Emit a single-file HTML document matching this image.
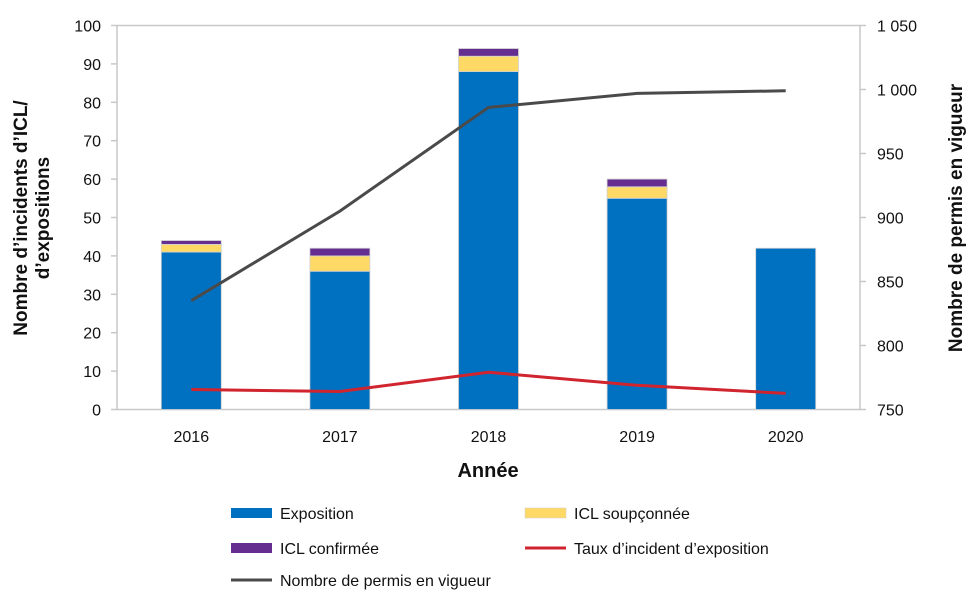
<!DOCTYPE html>
<html><head><meta charset="utf-8"><style>
body{margin:0;background:#fff;}
svg{display:block;font-family:"Liberation Sans",sans-serif;}
</style></head><body>
<svg id="chart" width="980" height="611">
<g id="axes"></g><g id="bars"></g><g id="lines"></g>
<text x="0" y="0" transform="translate(31,218) rotate(-90)" text-anchor="middle" font-size="19" font-weight="bold" fill="#111"><tspan x="0" dy="-4">Nombre d’incidents d’ICL/</tspan><tspan x="0" dy="22">d’expositions</tspan></text>
<text transform="translate(956,218) rotate(-90)" text-anchor="middle" font-size="19" font-weight="bold" fill="#111" dy="6">Nombre de permis en vigueur</text>
<text x="488" y="477" text-anchor="middle" font-size="20" font-weight="bold" fill="#111">Année</text>
<g font-size="16" fill="#111">
<g><rect x="231" y="508" width="41" height="10" fill="#0070c0"/><text x="280" y="519">Exposition</text></g>
<g><rect x="525" y="508" width="41" height="10" fill="#ffd966" stroke="#ccc" stroke-width="0.5"/><text x="574" y="519">ICL soupçonnée</text></g>
<g><rect x="231" y="543" width="41" height="10" fill="#652d90"/><text x="280" y="554">ICL confirmée</text></g>
<g><line x1="525" y1="548" x2="566" y2="548" stroke="#d0252f" stroke-width="3"/><text x="574" y="554">Taux d’incident d’exposition</text></g>
<g><line x1="231" y1="580" x2="272" y2="580" stroke="#4a4a4a" stroke-width="3"/><text x="280" y="586">Nombre de permis en vigueur</text></g>
</g>
</svg>
<script>
const categories=["2016","2017","2018","2019","2020"];
const exposition=[41,36,88,55,42];
const iclSoupconnee=[2,4,4,3,0];
const iclConfirmee=[1,2,2,2,0];
const tauxIncident=[5.2,4.7,9.7,6.3,4.2];
const permis=[835,905,986,997,999];
const leftTicks=[0,10,20,30,40,50,60,70,80,90,100];
const rightTicks=[750,800,850,900,950,1000,1050];
const rightTickLabels=["750","800","850","900","950","1 000","1 050"];
const NS="http://www.w3.org/2000/svg";
const X0=117,X1=860,Y0=409.5,Y1=25.5;
const yL=v=>Y0-(v/100)*(Y0-Y1);
const yR=v=>Y0-((v-750)/300)*(Y0-Y1);
const band=(X1-X0)/categories.length;
const xC=i=>X0+band*(i+0.5);
function mk(p,tag,a){const e=document.createElementNS(NS,tag);for(const k in a)e.setAttribute(k,a[k]);p.appendChild(e);return e;}
const axes=document.getElementById('axes'),bars=document.getElementById('bars'),lines=document.getElementById('lines');
let e=mk(axes,'rect',{x:X0,y:Y1,width:X1-X0,height:Y0-Y1,fill:'none',stroke:'#c8c8c8','stroke-width':1.5});


leftTicks.forEach(t=>{
 mk(axes,'line',{x1:X0-6,x2:X0,y1:yL(t),y2:yL(t),stroke:'#c8c8c8','stroke-width':1.5});
 const tx=mk(axes,'text',{x:X0-16,y:yL(t)+6,'text-anchor':'end','font-size':16,fill:'#111'});tx.textContent=t;
 
 
});
rightTicks.forEach((t,i)=>{
 mk(axes,'line',{x1:X1,x2:X1+6,y1:yR(t),y2:yR(t),stroke:'#c8c8c8','stroke-width':1.5});
 const tx=mk(axes,'text',{x:X1+17,y:yR(t)+6,'font-size':16,fill:'#111'});tx.textContent=rightTickLabels[i];
 
 
});
categories.forEach((c,i)=>{
 const tx=mk(axes,'text',{x:xC(i),y:442,'text-anchor':'middle','font-size':16,fill:'#111'});tx.textContent=c;
 
 
 const w=60,x=xC(i)-w/2;
 const segs=[[exposition[i],'#0070c0','bar-exposition'],[iclSoupconnee[i],'#ffd966','bar-icl-soupconnee'],[iclConfirmee[i],'#652d90','bar-icl-confirmee']];
 let base=0;
 segs.forEach(s=>{if(s[0]<=0)return;
  const r=mk(bars,'rect',{x:x,y:yL(base+s[0]),width:w,height:yL(base)-yL(base+s[0]),fill:s[1],stroke:'#d0d0d0','stroke-width':0.8});
  
  
  base+=s[0];});
});
let p=mk(lines,'polyline',{points:tauxIncident.map((v,i)=>xC(i)+','+yL(v)).join(' '),fill:'none',stroke:'#d0252f','stroke-width':3});


p=mk(lines,'polyline',{points:permis.map((v,i)=>xC(i)+','+yR(v)).join(' '),fill:'none',stroke:'#4a4a4a','stroke-width':3});


</script>
</body></html>
